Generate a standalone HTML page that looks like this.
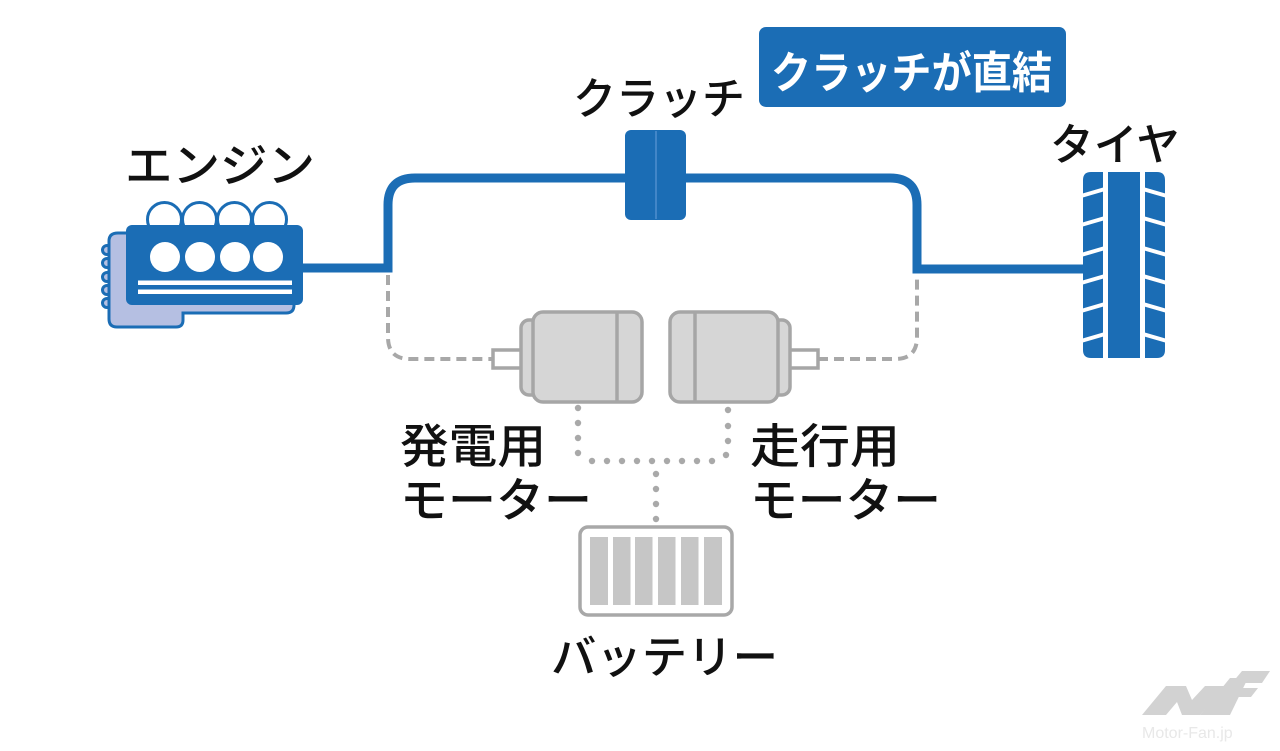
<!DOCTYPE html>
<html>
<head>
<meta charset="utf-8">
<style>
html,body{margin:0;padding:0;background:#fff;}
svg{display:block;}
text{font-family:"Liberation Sans","Noto Sans CJK JP",sans-serif;}
</style>
</head>
<body>
<svg width="1280" height="751" viewBox="0 0 1280 751" xmlns="http://www.w3.org/2000/svg">
<rect width="1280" height="751" fill="#fff"/>

<!-- dashed gray connectors -->
<path d="M388,275 V337 Q388,359 410,359 H493" fill="none" stroke="#a8a8a8" stroke-width="4" stroke-dasharray="10 6"/>
<path d="M818,359 H895 Q917,359 917,337 V275" fill="none" stroke="#a8a8a8" stroke-width="4" stroke-dasharray="10 6"/>

<!-- main blue path -->
<path d="M300,268 H388 V205 Q388,178 415,178 H890 Q917,178 917,205 V269 H1086" fill="none" stroke="#1b6db5" stroke-width="9"/>

<!-- clutch -->
<rect x="625" y="130" width="61" height="90" rx="6" fill="#1b6db5"/>
<line x1="656" y1="131" x2="656" y2="219" stroke="#4f8fcf" stroke-width="1.5"/>

<!-- label box -->
<rect x="759" y="27" width="307" height="80" rx="7" fill="#1b6db5"/>
<text x="771" y="88" font-size="44" font-weight="700" fill="#fff" textLength="281" lengthAdjust="spacingAndGlyphs">クラッチが直結</text>

<!-- labels -->
<text x="125" y="182" font-size="46" font-weight="500" fill="#111" textLength="190" lengthAdjust="spacingAndGlyphs">エンジン</text>
<text x="573" y="114" font-size="44" font-weight="500" fill="#111" textLength="172" lengthAdjust="spacingAndGlyphs">クラッチ</text>
<text x="1050" y="160" font-size="44" font-weight="500" fill="#111" textLength="130" lengthAdjust="spacingAndGlyphs">タイヤ</text>
<text x="400" y="463" font-size="47" font-weight="500" fill="#111" textLength="146" lengthAdjust="spacingAndGlyphs">発電用</text>
<text x="400" y="517" font-size="47" font-weight="500" fill="#111" textLength="192" lengthAdjust="spacingAndGlyphs">モーター</text>
<text x="750" y="463" font-size="47" font-weight="500" fill="#111" textLength="150" lengthAdjust="spacingAndGlyphs">走行用</text>
<text x="750" y="517" font-size="47" font-weight="500" fill="#111" textLength="191" lengthAdjust="spacingAndGlyphs">モーター</text>
<text x="551" y="673" font-size="45" font-weight="500" fill="#111" textLength="227" lengthAdjust="spacingAndGlyphs">バッテリー</text>

<!-- engine -->
<g stroke="#1b6db5" stroke-width="3" fill="#b5bfe2">
  <circle cx="107" cy="250" r="4.5"/>
  <circle cx="107" cy="263" r="4.5"/>
  <circle cx="107" cy="277" r="4.5"/>
  <circle cx="107" cy="290" r="4.5"/>
  <circle cx="107" cy="303" r="4.5"/>
  <path d="M118,233 H286 Q294,233 294,241 V305 Q294,313 286,313 H183 V320 Q183,327 176,327 H117 Q109,327 109,319 V241 Q109,233 118,233 Z"/>
</g>
<g stroke="#1b6db5" stroke-width="3" fill="#fff">
  <circle cx="164.5" cy="219.5" r="17"/>
  <circle cx="199.5" cy="219.5" r="17"/>
  <circle cx="234.5" cy="219.5" r="17"/>
  <circle cx="269.5" cy="219.5" r="17"/>
</g>
<rect x="126" y="225" width="177" height="80" rx="6" fill="#1b6db5"/>
<g fill="#fff">
  <circle cx="165" cy="257" r="15"/>
  <circle cx="200" cy="257" r="15"/>
  <circle cx="235" cy="257" r="15"/>
  <circle cx="268" cy="257" r="15"/>
  <rect x="138" y="280.5" width="154" height="4.5"/>
  <rect x="138" y="289.5" width="154" height="4.5"/>
</g>

<!-- tire -->
<g fill="#1b6db5">
  <path d="M1091,172 H1103 V358 H1091 Q1083,358 1083,350 V180 Q1083,172 1091,172 Z"/>
  <rect x="1108" y="172" width="32" height="186"/>
  <path d="M1145,172 H1157 Q1165,172 1165,180 V350 Q1165,358 1157,358 H1145 Z"/>
</g>
<g stroke="#fff" stroke-width="4">
  <line x1="1081" y1="196" x2="1105" y2="189"/>
  <line x1="1081" y1="225" x2="1105" y2="218"/>
  <line x1="1081" y1="255" x2="1105" y2="248"/>
  <line x1="1081" y1="283" x2="1105" y2="276"/>
  <line x1="1081" y1="311" x2="1105" y2="304"/>
  <line x1="1081" y1="341" x2="1105" y2="334"/>
  <line x1="1143" y1="189" x2="1167" y2="196"/>
  <line x1="1143" y1="218" x2="1167" y2="225"/>
  <line x1="1143" y1="248" x2="1167" y2="255"/>
  <line x1="1143" y1="276" x2="1167" y2="283"/>
  <line x1="1143" y1="304" x2="1167" y2="311"/>
  <line x1="1143" y1="334" x2="1167" y2="341"/>
</g>

<!-- motors -->
<g stroke="#a6a6a6" stroke-width="3.5">
  <rect x="493" y="350" width="30" height="18" fill="#fff"/>
  <rect x="521" y="320" width="24" height="75" rx="8" fill="#d6d6d6"/>
  <rect x="533" y="312" width="109" height="90" rx="10" fill="#d6d6d6"/>
  <line x1="617" y1="312" x2="617" y2="402"/>

  <rect x="788" y="350" width="30" height="18" fill="#fff"/>
  <rect x="766" y="320" width="24" height="75" rx="8" fill="#d6d6d6"/>
  <rect x="670" y="312" width="108" height="90" rx="10" fill="#d6d6d6"/>
  <line x1="695" y1="312" x2="695" y2="402"/>
</g>

<!-- dotted connectors -->
<g fill="#a9a9a9">
  <circle cx="578" cy="408" r="3.2"/>
  <circle cx="578" cy="423" r="3.2"/>
  <circle cx="578" cy="438" r="3.2"/>
  <circle cx="578" cy="453" r="3.2"/>
  <circle cx="592" cy="461" r="3.2"/>
  <circle cx="607" cy="461" r="3.2"/>
  <circle cx="622" cy="461" r="3.2"/>
  <circle cx="637" cy="461" r="3.2"/>
  <circle cx="652" cy="461" r="3.2"/>
  <circle cx="667" cy="461" r="3.2"/>
  <circle cx="682" cy="461" r="3.2"/>
  <circle cx="697" cy="461" r="3.2"/>
  <circle cx="712" cy="461" r="3.2"/>
  <circle cx="728" cy="410" r="3.2"/>
  <circle cx="728" cy="426" r="3.2"/>
  <circle cx="728" cy="441" r="3.2"/>
  <circle cx="726" cy="455" r="3.2"/>
  <circle cx="656" cy="474" r="3.2"/>
  <circle cx="656" cy="489" r="3.2"/>
  <circle cx="656" cy="504" r="3.2"/>
  <circle cx="656" cy="519" r="3.2"/>
</g>

<!-- battery -->
<rect x="580" y="527" width="152" height="88" rx="8" fill="#fff" stroke="#a8a8a8" stroke-width="3.5"/>
<g fill="#c6c6c6">
  <rect x="590" y="537" width="18" height="68"/>
  <rect x="613" y="537" width="17.5" height="68"/>
  <rect x="635" y="537" width="17.5" height="68"/>
  <rect x="658" y="537" width="17.5" height="68"/>
  <rect x="681" y="537" width="17.5" height="68"/>
  <rect x="704" y="537" width="18" height="68"/>
</g>

<!-- logo -->
<g fill="#d2d2d2">
  <polygon points="1142,715 1166,686 1186,686 1192,700 1205,686 1225,686 1200,715 1182,715 1177,702 1166,715"/>
  <polygon points="1200,715 1230,678 1248,678 1230,715"/>
  <polygon points="1232,683 1242,671 1270,671 1262,683"/>
  <polygon points="1228,697 1236,688 1258,688 1251,697"/>
</g>
<text x="1142" y="738" font-size="16" fill="#e8e8e8">Motor-Fan.jp</text>
</svg>
</body>
</html>
